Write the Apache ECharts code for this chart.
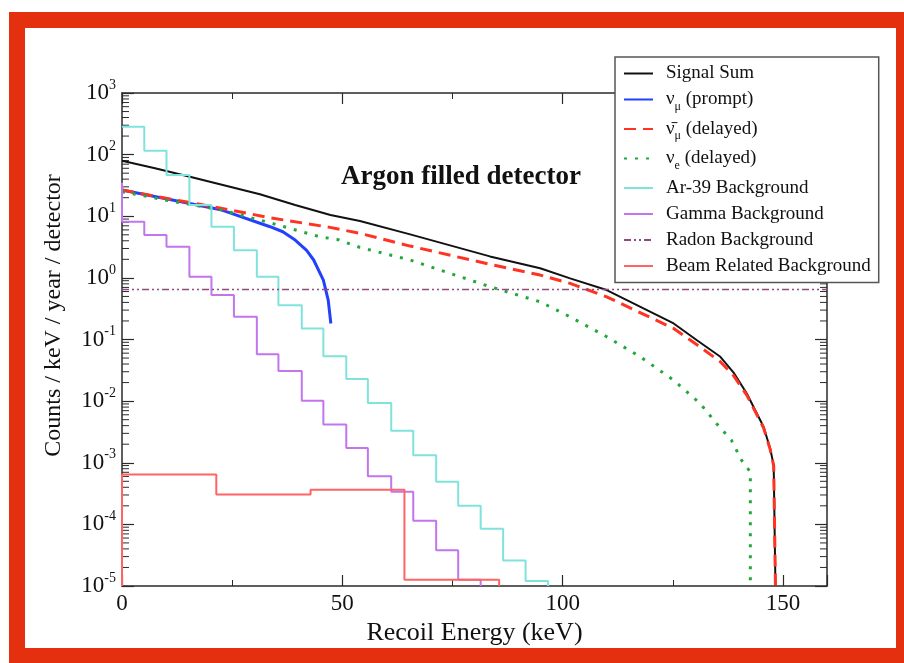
<!DOCTYPE html>
<html>
<head>
<meta charset="utf-8">
<title>Argon filled detector</title>
<script src="https://cdn.jsdelivr.net/npm/echarts@6/dist/echarts.min.js"></script>
<style>
  html, body { margin: 0; padding: 0; background: #fff; }
  #frame { position: absolute; left: 9px; top: 12px; width: 871px; height: 620px; border: 16px solid #e4300f; }
  #main { position: absolute; left: 0; top: 0; width: 904px; height: 663px; }
</style>
</head>
<body>
<div id="frame"></div>
<div id="main"></div>
<script>
// everything, energies in keV, rates in counts/keV/year/detector
const FLOOR = 1e-5

const sumE = [0, 7.5, 15.4, 31.3, 39.3, 46.5, 47.3, 54.0, 65.4, 83.5, 94.9, 101.7, 110.0, 125.2, 130.4, 135.8, 138.8, 141.8, 145.6, 147.1, 147.9, 148.3]
const sumV = [79.6, 60, 43.8, 22.7, 15.2, 10.9, 10.5, 8.36, 5.08, 2.23, 1.43, 0.98, 0.634, 0.182, 0.098, 0.0524, 0.029, 0.0133, 0.00383, 0.0017, 0.000915, 0.00001]

const promptE = [0, 11.4, 22.7, 33.6, 36.5, 39.3, 41.9, 43.5, 45.7, 46.8, 47.4]
const promptV = [26.6, 18.3, 12.6, 6.76, 5.6, 4.11, 2.8, 1.95, 0.92, 0.436, 0.182]

const antiE = [0, 11.4, 22.7, 33.6, 47.2, 54.0, 65.4, 83.5, 94.9, 101.7, 110.0, 125.2, 130.4, 135.8, 138.8, 141.8, 145.6, 147.1, 147.9, 148.3]
const antiV = [26.6, 18.8, 13.4, 9.46, 6.6, 5.28, 3.28, 1.66, 1.11, 0.815, 0.493, 0.151, 0.083, 0.0435, 0.026, 0.0125, 0.0037, 0.00165, 0.0009, 0.00001]

const nueE = [0, 11.4, 22.7, 33.6, 44.9, 48.9, 54.0, 65.4, 83.5, 94.9, 101.7, 110.0, 117.6, 125.2, 131.2, 134.9, 138.3, 140.6, 142.6, 142.6]
const nueV = [25, 17.5, 12.6, 7.83, 4.64, 4.2, 3.12, 1.95, 0.72, 0.409, 0.233, 0.111, 0.0524, 0.0219, 0.00918, 0.00435, 0.00233, 0.0011, 0.00071, 0.00001]

// histogram backgrounds, bin edges shared by Ar-39 and gamma
const binEdges = [0, 5.06, 10.1, 15.3, 20.3, 25.4, 30.6, 35.5, 40.8, 45.7, 50.9, 55.8, 61.1, 66.1, 71.3, 76.3, 81.4, 86.5, 91.6, 96.7]
const ar39 = [284, 116, 46.7, 15.2, 6.76, 2.82, 1.04, 0.361, 0.151, 0.0537, 0.0229, 0.00933, 0.00331, 0.00132, 0.00049, 0.0002, 0.000085, 0.000026, 0.000012]
const gamma = [8.15, 4.95, 3.2, 1.04, 0.525, 0.234, 0.0575, 0.0309, 0.0101, 0.00417, 0.00174, 0.000603, 0.000339, 0.000115, 0.000038, 0.0000126]
const gammaStart = 35

const beamEdges = [0, 21.4, 42.8, 64.1, 85.6]
const beam = [0.000646, 0.000305, 0.000363, 0.0000126]

const radonE = [0, 160]
const radon = [0.65, 0.65]

// axis ticks
const xTicks = [0, 50, 100, 150]
const decades = [-5, -4, -3, -2, -1, 0, 1, 2]
const mantissas = [2, 3, 4, 5, 6, 7, 8, 9]

const serif = 'Liberation Serif, Times New Roman, DejaVu Serif, serif'

function pairs (xs, ys) {
  return xs.map((x, i) => [x, ys[i]])
}

// left edges + closing edge, with the drop to the floor at the end
function histo (edges, vals, start) {
  const pts = []
  pts.push([edges[0], start])
  vals.forEach((v, i) => pts.push([edges[i], v]))
  pts.push([edges[vals.length], vals[vals.length - 1]])
  pts.push([edges[vals.length], FLOOR])
  return pts
}

const minorTicks = []
decades.forEach(d => mantissas.forEach(m => minorTicks.push([0, m * Math.pow(10, d)])))

const legendText = {
  sum: 'Signal Sum',
  prompt: '{n|ν}{sub|μ} (prompt)',
  anti: '{n|ν\u0304}{sub|μ} (delayed)',
  nue: '{n|ν}{sub|e} (delayed)',
  ar: 'Ar-39 Background',
  gamma: 'Gamma Background',
  radon: 'Radon Background',
  beam: 'Beam Related Background'
}

const chart = echarts.init(document.getElementById('main'))

const axisLine = { show: true, onZero: false, lineStyle: { color: '#2a2a2a', width: 1.5 } }

chart.setOption({
  animation: false,
  title: {
    text: 'Argon filled detector',
    left: 336,
    top: 159,
    textStyle: { fontFamily: serif, fontSize: 27, fontWeight: 'bold', color: '#111' }
  },
  grid: { left: 122, top: 93, width: 705, height: 493, outerBoundsMode: 'none' },
  legend: {
    data: ['sum', 'prompt', 'anti', 'nue', 'ar', 'gamma', 'radon', 'beam'],
    orient: 'vertical',
    left: 615,
    top: 57,
    backgroundColor: '#fff',
    borderColor: '#555',
    borderWidth: 1.5,
    borderRadius: 0,
    padding: [7, 8, 7, 8],
    itemWidth: 29,
    itemHeight: 12,
    itemGap: 7,
    selectedMode: false,
    itemStyle: { opacity: 0 },
    formatter: name => legendText[name],
    textStyle: {
      fontFamily: serif,
      fontSize: 19,
      color: '#111',
      padding: [0, 0, 0, 8],
      rich: {
        n: { fontFamily: serif, fontSize: 19, color: '#111' },
        sub: { fontFamily: serif, fontSize: 12, color: '#111', padding: [14, 0, 0, 0] }
      }
    }
  },
  xAxis: [{
    type: 'value',
    min: 0,
    max: 160,
    interval: 50,
    name: 'Recoil Energy (keV)',
    nameLocation: 'middle',
    nameGap: 30,
    nameTextStyle: { fontFamily: serif, fontSize: 26, color: '#111' },
    axisLine: axisLine,
    axisTick: { show: true, inside: true, length: 11, lineStyle: { color: '#2a2a2a', width: 1.2 } },
    minorTick: { show: true, splitNumber: 2, length: 6, lineStyle: { color: '#2a2a2a', width: 1 } },
    axisLabel: {
      fontFamily: serif,
      fontSize: 23,
      color: '#111',
      margin: 6,
      showMinLabel: true,
      formatter: v => (xTicks.indexOf(v) >= 0 ? String(v) : '')
    },
    splitLine: { show: false }
  }, {
    type: 'value',
    position: 'top',
    min: 0,
    max: 160,
    interval: 50,
    axisLine: axisLine,
    axisTick: { show: true, inside: true, length: 11, lineStyle: { color: '#2a2a2a', width: 1.2 } },
    minorTick: { show: true, splitNumber: 2, length: 6, lineStyle: { color: '#2a2a2a', width: 1 } },
    axisLabel: { show: false },
    splitLine: { show: false }
  }],
  yAxis: [{
    type: 'log',
    logBase: 10,
    min: 1e-5,
    max: 1e3,
    splitNumber: 8,
    name: 'Counts / keV / year / detector',
    nameLocation: 'middle',
    nameGap: 56,
    nameTextStyle: { fontFamily: serif, fontSize: 24, color: '#111', padding: [0, 0, 0, 48] },
    axisLine: axisLine,
    axisTick: { show: true, inside: true, length: 12, lineStyle: { color: '#2a2a2a', width: 1.2 } },
    axisLabel: {
      margin: 6,
      showMinLabel: true,
      showMaxLabel: true,
      formatter: v => '{b|10}{s|' + Math.round(Math.log10(v)) + '}',
      rich: {
        b: { fontFamily: serif, fontSize: 23, color: '#111' },
        s: { fontFamily: serif, fontSize: 14, color: '#111', padding: [0, 0, 16, 0] }
      }
    },
    splitLine: { show: false }
  }, {
    type: 'log',
    logBase: 10,
    min: 1e-5,
    max: 1e3,
    splitNumber: 8,
    position: 'right',
    axisLine: axisLine,
    axisTick: { show: true, inside: true, length: 12, lineStyle: { color: '#2a2a2a', width: 1.2 } },
    axisLabel: { show: false },
    splitLine: { show: false }
  }],
  series: [
    {
      name: 'sum', type: 'line', symbol: 'none', data: pairs(sumE, sumV),
      lineStyle: { color: '#111', width: 2 }, itemStyle: { color: '#111' }
    },
    {
      name: 'prompt', type: 'line', symbol: 'none', data: pairs(promptE, promptV),
      lineStyle: { color: '#2340ff', width: 3 }, itemStyle: { color: '#2340ff' }
    },
    {
      name: 'anti', type: 'line', symbol: 'none', data: pairs(antiE, antiV),
      lineStyle: { color: '#ff3322', width: 3, type: [12, 7] }, itemStyle: { color: '#ff3322' }
    },
    {
      name: 'nue', type: 'line', symbol: 'none', data: pairs(nueE, nueV),
      lineStyle: { color: '#22a83a', width: 3, type: [3, 8] }, itemStyle: { color: '#22a83a' }
    },
    {
      name: 'ar', type: 'line', symbol: 'none', step: 'end', data: histo(binEdges, ar39, ar39[0]),
      lineStyle: { color: '#7fe3dc', width: 2 }, itemStyle: { color: '#7fe3dc' }
    },
    {
      name: 'gamma', type: 'line', symbol: 'none', step: 'end', data: histo(binEdges, gamma, gammaStart),
      lineStyle: { color: '#c275ec', width: 2 }, itemStyle: { color: '#c275ec' }
    },
    {
      name: 'radon', type: 'line', symbol: 'none', data: pairs(radonE, radon),
      lineStyle: { color: '#8e4a7e', width: 1.5, type: [7, 3, 2, 3, 2, 3] }, itemStyle: { color: '#8e4a7e' }
    },
    {
      name: 'beam', type: 'line', symbol: 'none', step: 'end', data: histo(beamEdges, beam, FLOOR),
      lineStyle: { color: '#ff6464', width: 2 }, itemStyle: { color: '#ff6464' }
    },
    {
      // log minor ticks on left and right frame
      name: 'minor', type: 'custom', silent: true, clip: false, z: 3,
      data: minorTicks,
      renderItem: (params, api) => {
        const y = api.coord([0, api.value(1)])[1]
        const cs = params.coordSys
        const st = { stroke: '#2a2a2a', lineWidth: 1 }
        return {
          type: 'group',
          children: [
            { type: 'line', shape: { x1: cs.x, y1: y, x2: cs.x + 7, y2: y }, style: st },
            { type: 'line', shape: { x1: cs.x + cs.width - 7, y1: y, x2: cs.x + cs.width, y2: y }, style: st }
          ]
        }
      }
    }
  ]
})
</script>
</body>
</html>
